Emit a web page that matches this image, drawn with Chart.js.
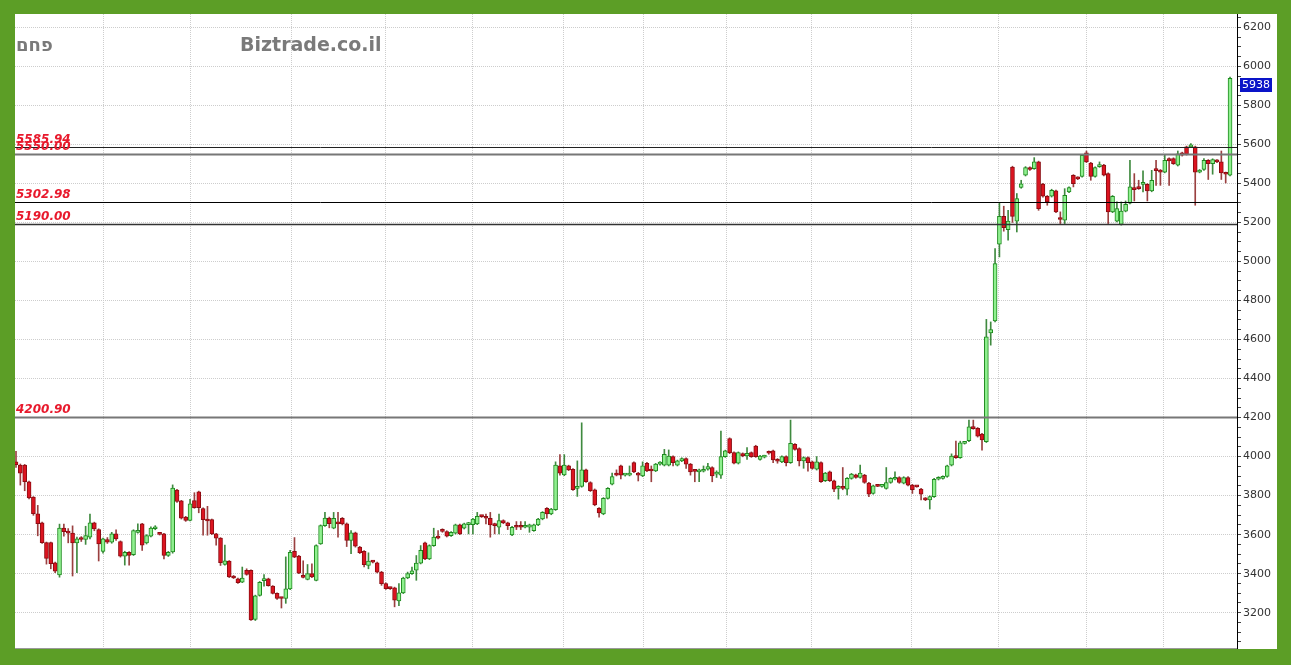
<!DOCTYPE html>
<html>
<head>
<meta charset="utf-8">
<script src="https://cdn.jsdelivr.net/npm/chart.js@4.4.1/dist/chart.umd.min.js"></script>
<style>
  html, body { margin: 0; padding: 0; background: #5c9e26; }
  #wrap { position: absolute; left: 15px; top: 14px; width: 1262px; height: 635px; background: #fff; overflow: hidden; }
</style>
</head>
<body>
<div id="wrap"><canvas id="chart" width="1262" height="635"></canvas></div>
<script>
var opens = [
  3973,3956,3956,3871,3792,3707,3661,3559,3559,3456,
  3394,3634,3615,3608,3558,3583,3575,3587,3660,3626,
  3514,3575,3561,3604,3565,3490,3510,3497,3612,3655,
  3558,3592,3630,3609,3604,3493,3512,3828,3773,3690,
  3673,3775,3819,3734,3677,3677,3604,3582,3447,3464,
  3388,3374,3357,3417,3417,3166,3288,3364,3374,3336,
  3299,3276,3273,3322,3515,3490,3386,3371,3400,3366,
  3553,3646,3685,3633,3663,3684,3655,3570,3609,3536,
  3514,3442,3464,3456,3408,3349,3327,3327,3261,3302,
  3378,3400,3418,3454,3558,3476,3544,3592,3626,3616,
  3595,3607,3650,3633,3651,3651,3655,3694,3694,3684,
  3655,3638,3672,3660,3599,3643,3643,3638,3638,3621,
  3650,3680,3735,3706,3728,3952,3906,3952,3935,3837,
  3847,3932,3867,3830,3735,3706,3786,3859,3915,3952,
  3905,3905,3969,3915,3901,3966,3929,3927,3961,3956,
  3956,4000,3956,3978,3990,3961,3927,3922,3925,3935,
  3944,3910,3905,4000,4092,4020,3966,4015,4003,4020,
  4054,3986,3997,4020,4029,3986,3973,4000,3969,4063,
  4041,3978,3995,3973,3935,3969,3876,3922,3876,3837,
  3847,3833,3888,3906,3893,3905,3864,3811,3850,3847,
  3837,3867,3884,3893,3864,3893,3854,3847,3833,3786,
  3778,3795,3884,3888,3898,3956,4003,3995,4068,4081,
  4150,4145,4115,4076,4634,4695,5088,5231,5163,5484,
  5207,5379,5442,5481,5476,5510,5396,5334,5334,5362,
  5225,5211,5356,5441,5430,5436,5556,5504,5436,5486,
  5494,5450,5254,5207,5190,5258,5299,5378,5382,5395,
  5395,5361,5467,5467,5458,5527,5527,5493,5556,5587,
  5587,5587,5458,5471,5518,5501,5518,5510,5454,5442
];
var highs = [
  4027,3962,3960,3875,3795,3750,3665,3562,3562,3460,
  3654,3654,3631,3645,3587,3590,3643,3706,3664,3630,
  3582,3585,3612,3625,3568,3515,3513,3625,3655,3658,
  3600,3640,3646,3612,3607,3514,3855,3832,3776,3694,
  3781,3815,3823,3738,3745,3680,3607,3585,3546,3467,
  3391,3377,3434,3425,3420,3290,3360,3395,3377,3339,
  3302,3279,3486,3519,3585,3494,3466,3447,3451,3548,
  3650,3714,3690,3714,3714,3688,3660,3621,3613,3540,
  3518,3507,3468,3460,3412,3353,3331,3331,3349,3382,
  3408,3434,3493,3544,3562,3548,3633,3621,3630,3620,
  3616,3654,3654,3659,3663,3684,3714,3698,3706,3714,
  3659,3706,3676,3664,3642,3667,3667,3667,3654,3654,
  3684,3718,3739,3735,3973,4010,4010,3956,3939,3978,
  4173,3936,3871,3834,3739,3790,3841,3915,3932,3956,
  3910,3952,3973,3919,3973,3970,3952,3965,3974,4037,
  4034,4004,3982,3994,3994,3965,3931,3936,3952,3966,
  3948,3927,4131,4033,4096,4024,4024,4019,4046,4024,
  4058,4007,4007,4029,4033,3990,4004,4004,4187,4067,
  4045,3999,3999,3977,4000,3973,3919,3926,3880,3851,
  3944,3892,3914,3910,3956,3909,3868,3854,3854,3852,
  3944,3892,3922,3897,3897,3897,3858,3851,3837,3790,
  3799,3888,3897,3902,3956,4014,4080,4079,4072,4187,
  4187,4149,4119,4703,4690,5066,5300,5283,5262,5488,
  5348,5416,5486,5485,5532,5514,5400,5338,5370,5366,
  5254,5373,5382,5445,5434,5548,5566,5508,5485,5510,
  5498,5454,5338,5305,5305,5310,5518,5450,5416,5464,
  5399,5467,5518,5471,5544,5531,5531,5566,5560,5591,
  5604,5591,5471,5527,5522,5526,5522,5566,5458,5945
];
var lows = [
  3944,3854,3825,3783,3699,3594,3555,3449,3425,3405,
  3382,3592,3558,3388,3405,3565,3550,3578,3620,3465,
  3505,3555,3556,3570,3485,3444,3444,3493,3608,3519,
  3552,3588,3625,3598,3476,3488,3505,3765,3680,3668,
  3670,3735,3712,3597,3597,3600,3546,3442,3444,3380,
  3375,3350,3354,3392,3160,3160,3285,3336,3336,3296,
  3268,3224,3248,3318,3482,3400,3378,3368,3380,3363,
  3550,3642,3635,3630,3587,3650,3539,3502,3536,3503,
  3434,3425,3455,3404,3340,3319,3319,3230,3236,3298,
  3374,3396,3366,3450,3472,3472,3540,3578,3612,3588,
  3591,3603,3600,3629,3604,3604,3651,3688,3655,3587,
  3604,3604,3656,3626,3595,3626,3626,3634,3612,3617,
  3646,3676,3684,3702,3724,3905,3902,3928,3826,3796,
  3843,3867,3821,3748,3690,3702,3782,3855,3901,3885,
  3900,3901,3918,3875,3897,3923,3871,3923,3956,3952,
  3952,3952,3952,3974,3940,3905,3871,3871,3921,3931,
  3871,3893,3888,3996,4015,3962,3962,3999,3986,3996,
  3996,3982,3993,4012,3969,3966,3969,3952,3965,4033,
  3952,3940,3925,3935,3931,3867,3872,3872,3820,3782,
  3830,3803,3884,3889,3889,3863,3795,3807,3846,3843,
  3833,3863,3880,3863,3860,3850,3811,3843,3778,3774,
  3731,3791,3880,3884,3894,3952,3991,3991,4064,4077,
  4140,4100,4033,4072,4571,4690,5023,5155,5109,5200,
  5151,5375,5438,5467,5472,5262,5330,5288,5330,5250,
  5194,5194,5352,5382,5419,5432,5506,5416,5432,5482,
  5438,5194,5250,5203,5186,5254,5295,5310,5369,5356,
  5310,5357,5390,5390,5454,5390,5497,5489,5540,5545,
  5583,5288,5454,5467,5420,5447,5506,5420,5402,5438
];
var closes = [
  3958,3915,3871,3788,3707,3656,3559,3478,3451,3413,
  3634,3615,3608,3558,3578,3575,3595,3660,3629,3553,
  3578,3561,3604,3578,3490,3510,3493,3621,3617,3546,
  3595,3634,3638,3601,3493,3510,3838,3770,3685,3673,
  3758,3738,3738,3677,3670,3604,3582,3456,3466,3383,
  3378,3354,3378,3396,3163,3286,3356,3374,3339,3299,
  3273,3273,3322,3510,3485,3403,3381,3400,3383,3544,
  3646,3685,3656,3684,3655,3655,3570,3609,3541,3507,
  3446,3464,3459,3408,3349,3323,3323,3264,3302,3378,
  3400,3414,3454,3519,3476,3544,3587,3582,3617,3592,
  3612,3650,3604,3655,3660,3680,3694,3692,3684,3650,
  3646,3672,3660,3646,3638,3638,3638,3643,3650,3650,
  3680,3714,3706,3731,3956,3915,3956,3932,3830,3847,
  3932,3871,3825,3752,3711,3786,3837,3898,3905,3905,
  3905,3915,3922,3905,3952,3927,3926,3961,3969,4012,
  4003,3969,3978,3990,3961,3922,3924,3932,3935,3949,
  3901,3910,4000,4029,4020,3966,4020,4003,4017,4000,
  4000,4003,4003,4017,3983,3976,4000,3969,4068,4037,
  3978,3995,3969,3939,3973,3871,3915,3876,3833,3847,
  3837,3888,3910,3893,3915,3867,3808,3850,3847,3849,
  3867,3888,3893,3867,3893,3854,3830,3845,3808,3778,
  3795,3884,3893,3898,3952,4003,3995,4071,4068,4153,
  4143,4105,4085,4614,4651,4989,5231,5173,5207,5231,
  5322,5398,5481,5471,5510,5271,5334,5305,5365,5254,
  5215,5339,5378,5399,5423,5544,5510,5436,5481,5494,
  5442,5254,5334,5271,5258,5293,5382,5368,5373,5402,
  5361,5416,5465,5458,5518,5515,5501,5552,5544,5549,
  5595,5458,5467,5518,5501,5522,5510,5454,5447,5938
];
// support / resistance levels drawn across the chart
var levels = [5585.94, 5550.00, 5302.98, 5190.00, 4200.90];
var levelLabels = ['5585.94', '5550.00', '5302.98', '5190.00', '4200.90'];
// candle index where each month starts (vertical grid)
var monthBreaks = [20, 40, 63.2, 85, 105, 125.9, 144.1, 163.2, 182.9, 205.9, 225.7, 245.9, 263.8];
var titleName = 'פחם';
var siteName = 'Biztrade.co.il';

var bodyData = [], wickData = [], bodyFill = [], bodyLine = [], wickColor = [];
for (var i = 0; i < closes.length; i++) {
  var up = closes[i] >= opens[i];
  bodyData.push({x: i, y: [opens[i], closes[i]]});
  wickData.push({x: i, y: [lows[i], highs[i]]});
  bodyFill.push(up ? '#8ff08f' : '#dc1420');
  bodyLine.push(up ? '#1e8a1e' : '#8c0c12');
  wickColor.push(up ? '#3f8a3f' : '#9a4040');
}

var overlay = {
  id: 'overlay',
  afterDatasetsDraw: function(chart) {
    var ctx = chart.ctx, y = chart.scales.y, area = chart.chartArea;
    ctx.save();
    var widths = [1, 2, 1, 1.5, 2];
    var colors = ['#222', '#777', '#000', '#333', '#777'];
    for (var k = 0; k < levels.length; k++) {
      var py = Math.round(y.getPixelForValue(levels[k])) + 0.5;
      ctx.strokeStyle = colors[k];
      ctx.lineWidth = widths[k];
      ctx.beginPath();
      ctx.moveTo(area.left, py);
      ctx.lineTo(area.right, py);
      ctx.stroke();
      ctx.fillStyle = '#e8192c';
      ctx.font = 'italic bold 12px "DejaVu Sans"';
      ctx.textBaseline = 'alphabetic';
      ctx.fillText(levelLabels[k], area.left + 1, py - 5);
    }
    ctx.fillStyle = '#7a7a7a';
    ctx.font = 'bold 18px "DejaVu Sans"';
    ctx.fillText(titleName, area.left + 1, 37);
    ctx.font = 'bold 19px "DejaVu Sans"';
    ctx.fillText(siteName, 225, 37);

    // last price box
    var last = closes[closes.length - 1];
    var ly = Math.round(y.getPixelForValue(last));
    ctx.fillStyle = '#0a14c8';
    ctx.fillRect(area.right + 3, ly, 32, 14);
    ctx.fillStyle = '#fff';
    ctx.font = '11px "DejaVu Sans"';
    ctx.textBaseline = 'middle';
    ctx.fillText(String(last), area.right + 5, ly + 7.5);
    ctx.restore();
  }
};

var chart = new Chart(document.getElementById('chart'), {
  type: 'bar',
  data: {
    datasets: [
      {
        data: bodyData,
        backgroundColor: bodyFill,
        borderColor: bodyLine,
        borderWidth: 1,
        borderSkipped: false,
        barThickness: 4,
        minBarLength: 2,
        grouped: false,
        order: 0
      },
      {
        data: wickData,
        backgroundColor: wickColor,
        borderWidth: 0,
        barThickness: 1,
        grouped: false,
        order: 1
      }
    ]
  },
  options: {
    responsive: false,
    animation: false,
    devicePixelRatio: 1,
    layout: { padding: 0 },
    plugins: { legend: { display: false }, tooltip: { enabled: false } },
    scales: {
      x: {
        type: 'linear',
        min: -0.23,
        max: 280.6,
        offset: false,
        afterBuildTicks: function(scale) {
          scale.ticks = monthBreaks.map(function(v) { return {value: v}; });
        },
        afterFit: function(scale) {
          scale.height = 0;
          scale.paddingLeft = 0;
          scale.paddingRight = 0;
        },
        ticks: { display: false },
        grid: { color: '#cdcdcd', lineWidth: 1, drawTicks: false, offset: false },
        border: { color: '#999', width: 3, dash: [1, 1] }
      },
      y: {
        position: 'right',
        min: 3014,
        max: 6268,
        afterFit: function(scale) {
          scale.width = 40;
          scale.paddingTop = 0;
          scale.paddingBottom = 0;
        },
        ticks: {
          stepSize: 50,
          includeBounds: false,
          autoSkip: false,
          padding: 2,
          color: '#333',
          font: { family: 'DejaVu Sans', size: 11 },
          callback: function(v) { return Math.round(v) % 200 === 0 ? String(Math.round(v)) : ''; }
        },
        grid: {
          color: function(c) {
            return c.tick && Math.round(c.tick.value) % 200 === 0 ? '#cdcdcd' : 'rgba(0,0,0,0)';
          },
          tickColor: '#444',
          tickLength: 4
        },
        border: { color: '#000', width: 1, dash: [1, 1] }
      }
    }
  },
  plugins: [overlay]
});
</script>
</body>
</html>
